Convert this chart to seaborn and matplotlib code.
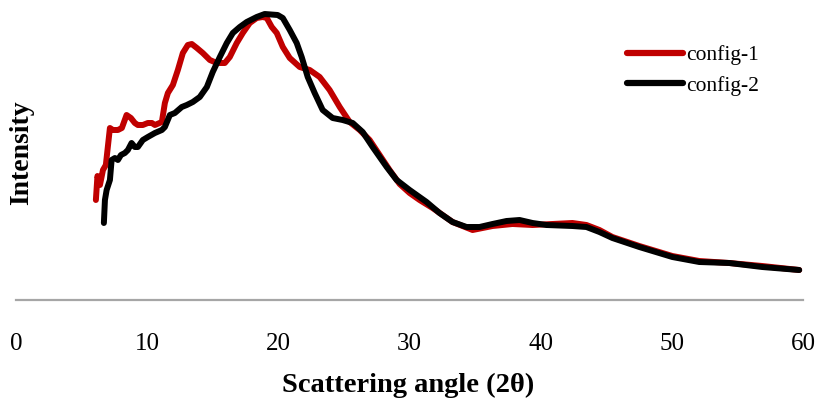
import numpy as np
import pandas as pd
import matplotlib
matplotlib.use("Agg")
import matplotlib.pyplot as plt
import seaborn as sns

# ---- data ----
angle_c1 = [6.09, 6.21, 6.40, 6.63, 6.85, 7.16, 7.39, 7.77, 8.07, 8.43,
            8.76, 9.06, 9.29, 9.67, 10.05, 10.36, 10.59, 11.12, 11.35, 11.58,
            11.96, 12.34, 12.72, 13.10, 13.40, 13.79, 14.24, 14.78, 15.31, 15.92,
            16.30, 16.83, 17.29, 17.82, 18.35, 18.81, 19.12, 19.50, 19.88, 20.34,
            20.87, 21.63, 22.39, 23.15, 23.91, 24.68, 25.44, 26.20, 26.96, 27.72,
            28.48, 29.25, 30.01, 30.77, 31.76, 33.28, 34.81, 36.33, 37.85, 39.38,
            40.90, 42.42, 43.49, 44.48, 45.47, 47.52, 50.04, 52.09, 54.38, 56.89,
            59.71]
intensity_c1 = [100, 124, 115, 130, 135, 172, 170, 170, 172, 185,
                182, 177, 175, 175, 177, 177, 175, 178, 197, 207,
                215, 230, 247, 255, 256, 252, 247, 240, 237, 237,
                243, 257, 267, 277, 282, 283, 282, 273, 267, 253,
                242, 233, 230, 223, 210, 193, 178, 170, 160, 145,
                130, 116, 107, 100, 92, 78, 70, 74, 76, 75,
                76, 77, 75, 70, 63, 54, 44, 39, 37, 34,
                30]

angle_c2 = [6.70, 6.78, 6.91, 7.16, 7.29, 7.54, 7.77, 8.00, 8.30, 8.53,
            8.81, 9.06, 9.29, 9.67, 10.05, 10.59, 11.12, 11.35, 11.73, 12.11,
            12.64, 13.02, 13.48, 14.01, 14.55, 15.00, 15.54, 16.07, 16.53, 17.06,
            17.59, 18.35, 18.96, 19.95, 20.34, 20.87, 21.40, 21.78, 22.24, 22.77,
            23.38, 24.14, 24.90, 25.67, 26.43, 27.19, 28.26, 29.02, 30.01, 31.30,
            32.29, 33.28, 34.35, 35.34, 36.33, 37.40, 38.39, 39.38, 40.44, 42.42,
            43.49, 44.48, 45.47, 47.52, 50.04, 52.09, 54.38, 56.89, 59.71]
intensity_c2 = [77, 100, 110, 120, 140, 142, 140, 145, 147, 150,
                157, 153, 153, 160, 163, 167, 170, 173, 185, 187,
                193, 195, 198, 203, 213, 228, 243, 257, 267, 273,
                278, 283, 286, 285, 282, 270, 257, 243, 223, 207,
                190, 182, 180, 177, 168, 153, 133, 120, 110, 98,
                87, 78, 73, 73, 76, 79, 80, 77, 75, 74,
                73, 68, 62, 53, 43, 38, 37, 33, 30]

series_names = ["config-1", "config-2"]
series_colors = ["#C00000", "#000000"]
x_ticks = [0, 10, 20, 30, 40, 50, 60]

df = pd.concat([
    pd.DataFrame({"angle": angle_c1, "intensity": intensity_c1, "series": series_names[0]}),
    pd.DataFrame({"angle": angle_c2, "intensity": intensity_c2, "series": series_names[1]}),
], ignore_index=True)

sns.set_style("white")
plt.rcParams["font.family"] = ["Liberation Serif", "DejaVu Serif"]
plt.rcParams["text.color"] = "black"
plt.rcParams["xtick.color"] = "black"

fig = plt.figure(figsize=(8.16, 4.01), dpi=100)
ax = fig.add_axes([16 / 816, (401 - 300) / 401, 787 / 816, 290 / 401])

sns.lineplot(data=df, x="angle", y="intensity", hue="series",
             palette=dict(zip(series_names, series_colors)),
             sort=False, estimator=None, linewidth=4.3, ax=ax,
             legend=True)
for ln in ax.get_lines():
    ln.set_solid_capstyle("round")
    ln.set_solid_joinstyle("round")

ax.set_xlim(0, 60)
ax.set_ylim(0, 290)
ax.set_xticks(x_ticks)
ax.set_xticklabels([str(t) for t in x_ticks], fontsize=18, color="black")
ax.set_yticks([])
ax.tick_params(axis="x", length=0, pad=24)

for s in ["top", "right", "left"]:
    ax.spines[s].set_visible(False)
ax.spines["bottom"].set_color("#A6A6A6")
ax.spines["bottom"].set_linewidth(1.6)

ax.set_xlabel("")
ax.set_ylabel("")
fig.text(408 / 816, 1 - 385 / 401, "Scattering angle (2\u03b8)", ha="center", va="center",
         fontsize=20.5, fontweight="bold", color="black")
fig.text(22 / 816, 1 - 153 / 401, "Intensity", ha="center", va="center",
         rotation=90, fontsize=20, fontweight="bold", color="black")

handles, labels = ax.get_legend_handles_labels()
if ax.legend_:
    ax.legend_.remove()
leg = fig.legend(handles, labels, loc="upper left",
                 bbox_to_anchor=(627 / 816, 1 - 45 / 401),
                 frameon=False, fontsize=15.5, handlelength=2.6,
                 handletextpad=0.15, labelspacing=0.5,
                 borderpad=0, borderaxespad=0)
for t in leg.get_texts():
    t.set_color("black")
for h in leg.legend_handles:
    h.set_linewidth(4.5)
    h.set_solid_capstyle("round")

fig.savefig("out.png", dpi=100)
